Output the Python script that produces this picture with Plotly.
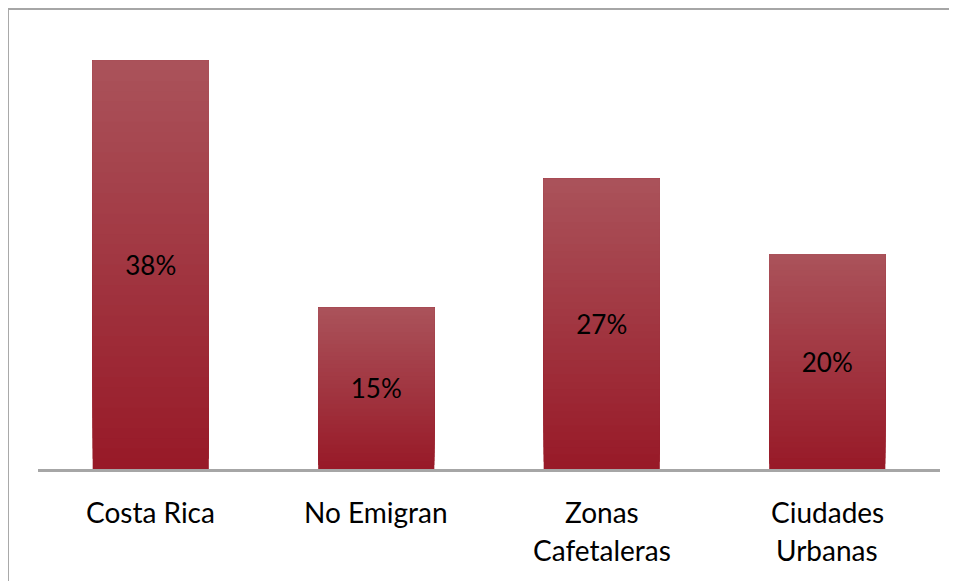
import plotly.graph_objects as go

categories = ["Costa Rica", "No Emigran", "Zonas Cafetaleras", "Ciudades Urbanas"]
tick_labels = ["Costa Rica", "No Emigran", "Zonas\nCafetaleras", "Ciudades\nUrbanas"]
values = [38, 15, 27, 20]
value_labels = ["38%", "15%", "27%", "20%"]

FONT = "Lato"
top_rgb = (170, 82, 90)
bot_rgb = (152, 26, 40)
N = 40

fig = go.Figure()
# gradient: each layer covers from a fraction of the bar up to its top
for i in range(N):
    t = i / (N - 1)
    r = round(bot_rgb[0] + (top_rgb[0] - bot_rgb[0]) * t)
    g = round(bot_rgb[1] + (top_rgb[1] - bot_rgb[1]) * t)
    b = round(bot_rgb[2] + (top_rgb[2] - bot_rgb[2]) * t)
    bases = [v * i / N for v in values]
    fig.add_trace(go.Bar(
        x=categories, y=[v - bb for v, bb in zip(values, bases)], base=bases,
        marker=dict(color=f"rgb({r},{g},{b})", line=dict(width=0)),
        width=0.515, hoverinfo="skip", showlegend=False,
    ))

fig.add_trace(go.Bar(
    x=categories, y=values, width=0.515,
    marker=dict(color="rgba(0,0,0,0)", line=dict(width=0)),
    text=value_labels, textposition="inside", insidetextanchor="middle",
    textfont=dict(family=FONT, size=26, color="#000000"),
    showlegend=False,
))

annotations = []
for cat, lab in zip(categories, tick_labels):
    for j, line in enumerate(lab.split("\n")):
        annotations.append(dict(
            x=cat, xref="x", y=0, yref="y", text=line, showarrow=False,
            yanchor="middle", yshift=-43 - 38 * j,
            font=dict(family=FONT, size=28, color="#000000"),
        ))

# outer frame lines (top and left) in paper coords
shapes = [
    dict(type="line", xref="paper", yref="paper", x0=-0.0333, x1=1.05, y0=1.0245, y1=1.0245,
         line=dict(color="#A6A6A6", width=2)),
    dict(type="line", xref="paper", yref="paper", x0=-0.0333, x1=-0.0333, y0=1.0245, y1=-0.3,
         line=dict(color="#A6A6A6", width=2)),
]

fig.update_layout(
    width=957, height=581,
    margin=dict(l=30, r=25, t=12, b=120),
    barmode="overlay",
    plot_bgcolor="white", paper_bgcolor="white",
    font=dict(family=FONT),
    xaxis=dict(showticklabels=False, showline=True, linecolor="#A6A6A6", linewidth=3,
               ticks="", showgrid=False, zeroline=False),
    yaxis=dict(range=[0, 41.77], visible=False, showgrid=False, zeroline=False),
    annotations=annotations, shapes=shapes,
)

fig.write_html("out.html")
